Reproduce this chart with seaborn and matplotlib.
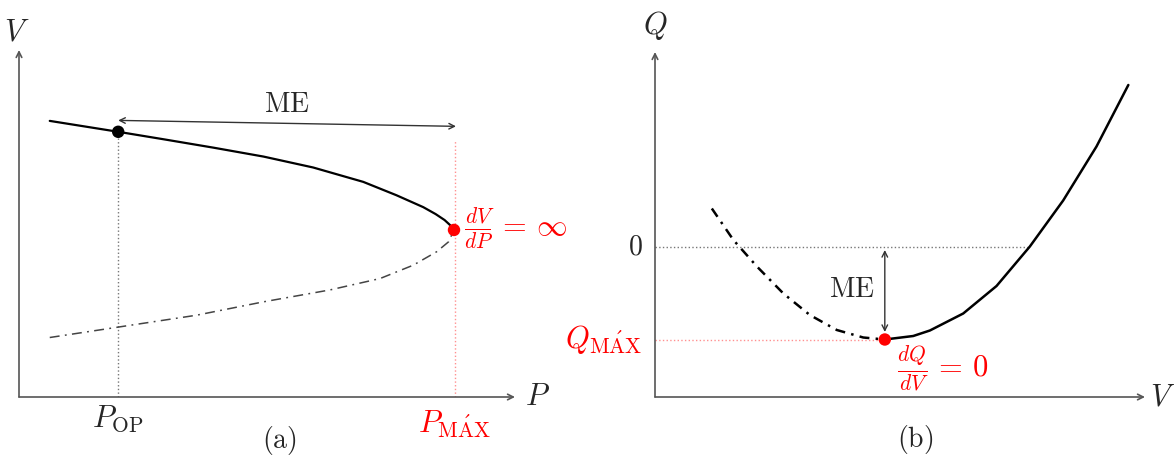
import numpy as np
import pandas as pd
import matplotlib
matplotlib.use('Agg')
import matplotlib.pyplot as plt
import seaborn as sns

# (a) P-V curve
p_upper = [0.62, 2.00, 2.91, 3.92, 4.93, 5.93, 6.94, 7.61, 8.15, 8.40, 8.58, 8.70, 8.77]
v_upper = [5.57, 5.35, 5.20, 5.03, 4.85, 4.63, 4.34, 4.07, 3.83, 3.69, 3.57, 3.46, 3.37]
p_lower = [0.62, 2.00, 3.58, 4.93, 6.27, 7.28, 7.95, 8.42, 8.66, 8.77]
v_lower = [1.20, 1.41, 1.65, 1.92, 2.16, 2.39, 2.66, 2.93, 3.13, 3.37]
p_op, v_op = 2.0, 5.35
p_max, v_max = 8.77, 3.37

# (b) Q-V curve
v_unstable = [1.16, 1.60, 2.08, 2.62, 3.16, 3.71, 4.25, 4.69]
q_unstable = [0.77, 0.14, -0.39, -0.93, -1.36, -1.66, -1.81, -1.85]
v_stable = [4.69, 5.27, 5.61, 6.29, 6.97, 7.65, 8.33, 9.01, 9.66]
q_stable = [-1.85, -1.78, -1.67, -1.33, -0.78, 0.01, 0.93, 2.01, 3.24]
v_qmax, q_qmax = 4.69, -1.85

sns.set_style('white')
plt.rcParams['mathtext.fontset'] = 'cm'
plt.rcParams['font.family'] = ['cmr10', 'DejaVu Serif']
plt.rcParams['axes.unicode_minus'] = False

RED = '#ff0000'
AXC = '#555555'
FS = 20
LFS = 22

fig = plt.figure(figsize=(11.74, 4.58), dpi=100)
W, H = 1174, 458
ax1 = fig.add_axes([19 / W, 61 / H, 496 / W, 347 / H])
ax2 = fig.add_axes([655 / W, 61 / H, 490 / W, 345 / H])

for ax in (ax1, ax2):
    for s in ax.spines.values():
        s.set_visible(False)
    ax.set_xticks([])
    ax.set_yticks([])
    ax.patch.set_alpha(0)
    ax.annotate('', xy=(1, 0), xytext=(0, 0), xycoords='axes fraction',
                arrowprops=dict(arrowstyle='->', color=AXC, lw=1.2, shrinkA=0, shrinkB=0))
    ax.annotate('', xy=(0, 1), xytext=(0, 0), xycoords='axes fraction',
                arrowprops=dict(arrowstyle='->', color=AXC, lw=1.2, shrinkA=0, shrinkB=0))

# ---- panel (a)
ax1.set_xlim(0, 10)
ax1.set_ylim(0, 7)
ax1.plot([p_op, p_op], [0, v_op], ls=':', color='#777777', lw=1)
ax1.plot([8.79, 8.79], [0, 5.18], ls=':', color='#ff9090', lw=1)
sns.lineplot(x=p_upper, y=v_upper, sort=False, estimator=None, ax=ax1,
             color='black', lw=1.6)
sns.lineplot(x=p_lower, y=v_lower, sort=False, estimator=None, ax=ax1,
             color='#444444', lw=1.1, linestyle=(0, (6.5, 3.5, 1.2, 3.5)))
sns.scatterplot(x=[p_op], y=[v_op], ax=ax1, color='black', s=80, zorder=5, edgecolor='none')
sns.scatterplot(x=[p_max], y=[v_max], ax=ax1, color=RED, s=80, zorder=5, edgecolor='none')
ax1.annotate('', xy=(8.81, 5.46), xytext=(2.0, 5.58),
             arrowprops=dict(arrowstyle='<->', color='#333333', lw=1, shrinkA=0, shrinkB=0))
ax1.text(5.4, 5.9, r'$\mathrm{ME}$', fontsize=FS, ha='center', va='center')
ax1.text(8.98, 3.39, r'$\frac{dV}{dP}\,=\,\infty$', fontsize=LFS, color=RED,
         ha='left', va='center')
ax1.text(-0.04, 7.35, r'$V$', fontsize=LFS, ha='center', va='center')
ax1.text(10.2, 0.0, r'$P$', fontsize=LFS, ha='left', va='center')
ax1.text(p_op, -0.44, r'$P_{\mathrm{OP}}$', fontsize=LFS, ha='center', va='center')
ax1.text(p_max, -0.56, r'$P_{\mathrm{M\acute{A}X}}$', fontsize=LFS, ha='center', va='center',
         color=RED)
ax1.text(5.26, -0.87, r'$\mathrm{(a)}$', fontsize=FS, ha='center', va='center')

# ---- panel (b)
ax2.set_xlim(0, 10)
ax2.set_ylim(-3, 3.9)
ax2.plot([0, 7.65], [0, 0], ls=':', color='#777777', lw=1)
ax2.plot([0, v_qmax], [q_qmax, q_qmax], ls=':', color='#ff9090', lw=1)
sns.lineplot(x=v_unstable, y=q_unstable, sort=False, estimator=None, ax=ax2,
             color='black', lw=1.8, linestyle=(0, (4, 2.5, 1, 2.5)))
sns.lineplot(x=v_stable, y=q_stable, sort=False, estimator=None, ax=ax2,
             color='black', lw=1.8)
sns.scatterplot(x=[v_qmax], y=[q_qmax], ax=ax2, color=RED, s=80, zorder=5, edgecolor='none')
ax2.annotate('', xy=(4.69, -1.70), xytext=(4.69, -0.06),
             arrowprops=dict(arrowstyle='<->', color='#333333', lw=1, shrinkA=0, shrinkB=0))
ax2.text(4.49, -0.86, r'$\mathrm{ME}$', fontsize=FS, ha='right', va='center')
ax2.text(4.94, -2.42, r'$\frac{dQ}{dV}\,=\,0$', fontsize=LFS, color=RED,
         ha='left', va='center')
ax2.text(-0.25, 0, r'$0$', fontsize=FS, ha='right', va='center')
ax2.text(-0.25, q_qmax, r'$Q_{\mathrm{M\acute{A}X}}$', fontsize=LFS, ha='right', va='center',
         color=RED)
ax2.text(0, 4.42, r'$Q$', fontsize=LFS, ha='center', va='center')
ax2.text(10.1, -3.02, r'$V$', fontsize=LFS, ha='left', va='center')
ax2.text(5.31, -3.86, r'$\mathrm{(b)}$', fontsize=FS, ha='center', va='center')

fig.savefig('out.png', dpi=100)
